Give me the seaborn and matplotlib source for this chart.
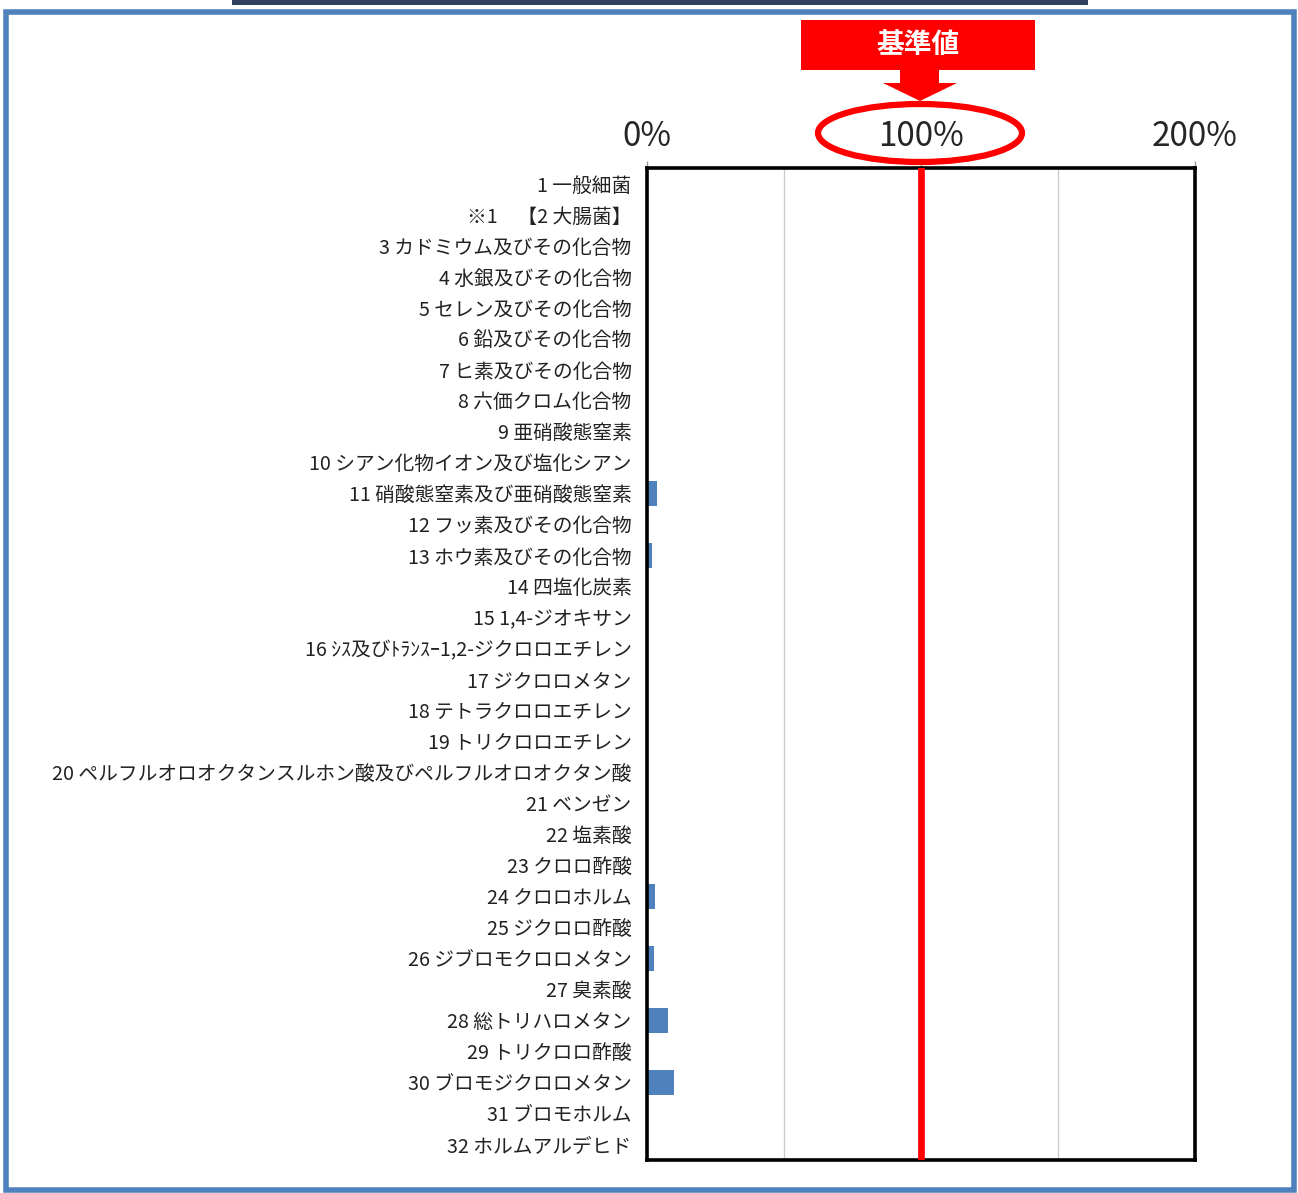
import matplotlib
matplotlib.use("Agg")
import matplotlib.pyplot as plt
import matplotlib.patches as mpatches
import seaborn as sns
import pandas as pd

categories = [
    "1 一般細菌",
    "※1　【2 大腸菌】",
    "3 カドミウム及びその化合物",
    "4 水銀及びその化合物",
    "5 セレン及びその化合物",
    "6 鉛及びその化合物",
    "7 ヒ素及びその化合物",
    "8 六価クロム化合物",
    "9 亜硝酸態窒素",
    "10 シアン化物イオン及び塩化シアン",
    "11 硝酸態窒素及び亜硝酸態窒素",
    "12 フッ素及びその化合物",
    "13 ホウ素及びその化合物",
    "14 四塩化炭素",
    "15 1,4-ジオキサン",
    "16 ｼｽ及びﾄﾗﾝｽｰ1,2-ジクロロエチレン",
    "17 ジクロロメタン",
    "18 テトラクロロエチレン",
    "19 トリクロロエチレン",
    "20 ペルフルオロオクタンスルホン酸及びペルフルオロオクタン酸",
    "21 ベンゼン",
    "22 塩素酸",
    "23 クロロ酢酸",
    "24 クロロホルム",
    "25 ジクロロ酢酸",
    "26 ジブロモクロロメタン",
    "27 臭素酸",
    "28 総トリハロメタン",
    "29 トリクロロ酢酸",
    "30 ブロモジクロロメタン",
    "31 ブロモホルム",
    "32 ホルムアルデヒド",
]
values = [0, 0, 0, 0, 0, 0, 0, 0, 0, 0,
          3.8, 0, 1.8, 0, 0, 0, 0, 0, 0, 0,
          0, 0, 0, 3.0, 0, 2.7, 0, 7.8, 0, 9.7, 0, 0]
tick_values = [0, 100, 200]
tick_labels = ["0%", "100%", "200%"]
grid_values = [50, 150]
reference_value = 100
reference_label = "基準値"

sns.set_style("white")
plt.rcParams["font.family"] = ["Noto Sans CJK JP", "DejaVu Sans"]

W, H = 1298, 1193
fig = plt.figure(figsize=(W / 100, H / 100), dpi=100)

def fx(x):
    return x / W

def fy(y):
    return 1 - y / H

ax_left, ax_right, ax_top, ax_bottom = 647, 1195, 168, 1160
ax = fig.add_axes([fx(ax_left), fy(ax_bottom), fx(ax_right - ax_left), (ax_bottom - ax_top) / H])

df = pd.DataFrame({"item": categories, "value": values})
sns.barplot(data=df, x="value", y="item", orient="h", color="#4f81bd",
            width=0.82, ax=ax, edgecolor="none", saturation=1)

ax.set_xlim(0, 200)
ax.set_ylim(len(categories) - 0.5, -0.5)
ax.set_xlabel("")
ax.set_ylabel("")

ax.xaxis.tick_top()
ax.set_xticks(tick_values)
ax.set_xticklabels(tick_labels, fontsize=24)
ax.set_xticks(grid_values, minor=True)
ax.tick_params(axis="x", which="major", length=5, width=1, color="#999999", pad=5, top=True, bottom=False)
ax.tick_params(axis="x", which="minor", length=0)
ax.grid(False)
ax.grid(axis="x", which="minor", color="#cccccc", lw=1)
ax.set_axisbelow(True)

ax.tick_params(axis="y", length=0, pad=11, labelsize=14.2)
for lab in ax.get_yticklabels():
    lab.set_color("#222222")
    lab.set_y(lab.get_position()[1])
    lab.set_verticalalignment("center_baseline")

for s in ax.spines.values():
    s.set_visible(True)
    s.set_color("black")
    s.set_linewidth(2.6)

ax.axvline(reference_value, color="red", lw=4.8, zorder=5)

# Annotation: ellipse around 100%
ell = mpatches.Ellipse((fx(920), fy(133)), width=fx(204), height=58 / H,
                       transform=fig.transFigure, fill=False, edgecolor="red",
                       lw=4.5, zorder=10)
fig.add_artist(ell)

# Red label box
box = mpatches.Rectangle((fx(801), fy(70)), fx(234), 50 / H, transform=fig.transFigure,
                         facecolor="red", edgecolor="none", zorder=10)
fig.add_artist(box)
fig.text(fx(918), fy(45), reference_label, color="white", fontsize=20, fontweight="bold",
         ha="center", va="center", zorder=11)

# Arrow (shaft + head)
arrow = mpatches.Polygon(
    [(fx(900), fy(70)), (fx(939), fy(70)), (fx(939), fy(83)), (fx(957), fy(83)),
     (fx(920), fy(101)), (fx(883), fy(83)), (fx(900), fy(83))],
    closed=True, transform=fig.transFigure, facecolor="red", edgecolor="none", zorder=10)
fig.add_artist(arrow)

# Outer blue frame
frame = mpatches.Rectangle((fx(6), fy(1190)), fx(1288), (1190 - 12) / H, transform=fig.transFigure,
                           fill=False, edgecolor="#4f81bd", lw=4, zorder=1)
fig.add_artist(frame)

# Top dark bar (cut off)
topbar = mpatches.Rectangle((fx(232), fy(5)), fx(856), 5 / H, transform=fig.transFigure,
                            facecolor="#2f4060", edgecolor="none", zorder=2)
fig.add_artist(topbar)

fig.savefig("out.png", dpi=100)
